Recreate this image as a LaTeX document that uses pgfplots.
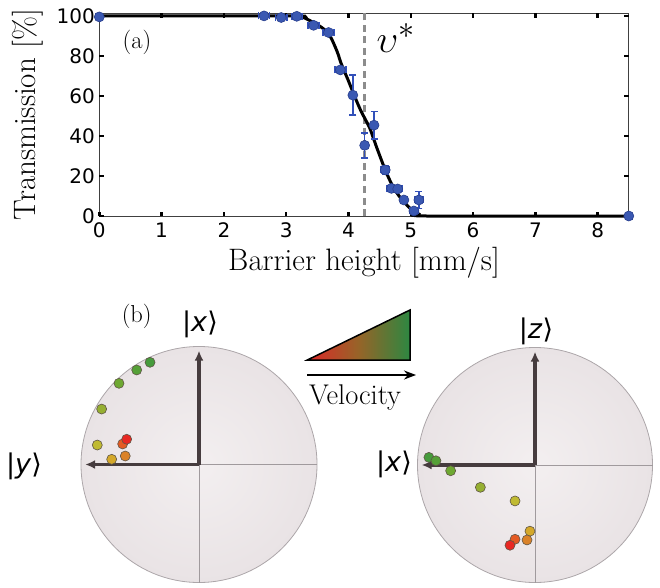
\documentclass[border=0pt]{standalone}
\usepackage{pgfplots}
\pgfplotsset{compat=1.18}
\usepackage{fontspec}
\usetikzlibrary{arrows.meta}
\newfontfamily\dejavu{DejaVu Sans}
\definecolor{ptblue}{RGB}{58,88,178}
\definecolor{ptedge}{RGB}{40,62,140}
\definecolor{ebblue}{RGB}{50,80,185}
\definecolor{dashgray}{RGB}{140,140,140}
\definecolor{sphin}{RGB}{243,239,240}
\definecolor{sphout}{RGB}{233,227,229}
\definecolor{sphrim}{RGB}{172,166,169}
\definecolor{thingray}{RGB}{160,154,157}
\definecolor{arr}{RGB}{70,60,62}
\definecolor{dotedge}{RGB}{95,85,70}
\definecolor{c1}{RGB}{70,155,60}
\definecolor{c2}{RGB}{85,160,55}
\definecolor{c3}{RGB}{110,168,50}
\definecolor{c4}{RGB}{150,175,50}
\definecolor{c5}{RGB}{192,186,50}
\definecolor{c6}{RGB}{212,168,42}
\definecolor{c7}{RGB}{218,130,40}
\definecolor{c8}{RGB}{228,90,35}
\definecolor{c9}{RGB}{232,40,35}
\definecolor{trired}{RGB}{222,40,40}
\definecolor{trimid}{RGB}{150,100,40}
\definecolor{trigreen}{RGB}{45,135,65}
\pgfplotstableread{
x y ex ey
0 99.5 0.05 0.6
2.645 100 0.09 0.6
2.92 99.2 0.09 0.8
3.17 99.8 0.08 0.8
3.44 95.3 0.09 1
3.68 91.7 0.09 1.2
3.87 73.0 0.09 1.5
4.07 60.4 0.05 10
4.26 35.3 0.05 6.3
4.41 45.4 0.05 6.9
4.59 23.0 0.07 2
4.69 13.8 0.07 1.5
4.79 13.5 0.07 1.5
4.89 8.0 0.05 1.5
5.05 2.5 0.07 1.5
5.13 8.0 0.07 4.2
8.5 0 0.05 0.5
}\transdata
\pgfplotstableread{
x y
0 100
3.1 100
3.26 99.4
3.45 96.5
3.6 93.5
3.72 89
3.82 82
3.885 76
4.0 67.5
4.096 60
4.2 52.5
4.34 44
4.45 34.5
4.59 23
4.7 15.5
4.8 10.5
4.87 7.8
5.0 3.5
5.13 1.0
5.25 0
8.5 0
}\fitdata
\begin{document}
\begin{tikzpicture}
\useasboundingbox (0,0) rectangle (660pt,587pt);
% ---------------- panel (a)
\begin{axis}[
  at={(99.3pt,371pt)}, anchor=south west,
  scale only axis, width=529.5pt, height=202.7pt,
  xmin=0, xmax=8.5, ymin=0, ymax=101.3,
  xtick={0,1,...,8}, ytick={0,20,...,100},
  major tick length=0pt,
  axis line style={line width=0.8pt, black!75},
  /pgf/number format/assume math mode=true,
  ticklabel style={font=\dejavu\fontsize{20}{20}\selectfont},
  xticklabel style={yshift=-3pt},
  yticklabel style={xshift=-1pt},
  xlabel={Barrier height [mm/s]},
  ylabel={Transmission [\%]},
  label style={font=\fontsize{31}{31}\selectfont, inner sep=0pt},
  xlabel style={at={(rel axis cs:0.5,0)}, anchor=center, yshift=-47pt},
  ylabel style={at={(rel axis cs:0,0.5)}, anchor=center, yshift=71.3pt},
  clip=false,
]
\pgfplotsinvokeforeach{0,1,...,8}{
  \draw[black, line width=2.4pt] (axis cs:#1,0) -- ++(0pt,4.5pt);
  \draw[black, line width=2.4pt] (axis cs:#1,101.3) -- ++(0pt,-4.5pt);
}
\pgfplotsinvokeforeach{0,20,...,100}{
  \draw[black, line width=2.4pt] (axis cs:0,#1) -- ++(4.5pt,0pt);
  \draw[black, line width=2.4pt] (axis cs:8.5,#1) -- ++(-4.5pt,0pt);
}
\addplot[dashgray, line width=3pt, dash pattern=on 7pt off 4.5pt] coordinates {(4.25,0) (4.25,101.3)};
\addplot[black, line width=3pt, smooth, tension=0.4] table[x=x,y=y] {\fitdata};
\addplot[only marks, mark=*, mark size=5pt, mark options={fill=ptblue, draw=ptedge, line width=0.6pt},
  error bars/.cd, x dir=both, x explicit, y dir=both, y explicit,
  error bar style={ebblue, line width=1.5pt},
  error mark options={ebblue, line width=1.5pt, mark size=3.5pt, rotate=90}]
  table[x=x, y=y, x error=ex, y error=ey] {\transdata};
\end{axis}
\node[font=\fontsize{24.5}{24.5}\selectfont] at (137pt,545pt) {(a)};
\node[font=\fontsize{24.88}{24.88}\selectfont, scale=1.55] at (396pt,549pt) {$\upsilon^{*}$};
% ---------------- panel (b)
\node[font=\fontsize{24.5}{24.5}\selectfont] at (136.7pt,271pt) {(b)};
\shade[left color=trired, right color=trigreen, middle color=trimid] (307.3pt,227pt) -- (410pt,277pt) -- (410pt,227pt) -- cycle;
\draw[black, line width=1.5pt, line join=miter] (307.3pt,227pt) -- (410pt,277pt) -- (410pt,227pt) -- cycle;
\draw[black, line width=1.6pt, -{Stealth[length=12pt, width=9pt]}] (307pt,212pt) -- (416pt,212pt);
\node[font=\fontsize{28.5}{28.5}\selectfont] at (355pt,189pt) {Velocity};
% left sphere
\begin{axis}[at={(199pt,122.5pt)}, anchor=center, scale only axis, width=236pt, height=236pt,
  xmin=-1, xmax=1, ymin=-1, ymax=1, hide axis, clip=false]
\shade[inner color=sphin, outer color=sphout] (axis cs:0,0) circle[radius=118pt];
\draw[sphrim, line width=0.8pt] (axis cs:0,0) circle[radius=118pt];
\draw[thingray, line width=0.6pt] (axis cs:0,0) -- (axis cs:1,0);
\draw[thingray, line width=0.6pt] (axis cs:0,0) -- (axis cs:0,-1);
\draw[arr, line width=3.4pt, -{Latex[length=10pt, width=9pt]}] (axis cs:0,0) -- (axis cs:0,0.965);
\draw[arr, line width=3.4pt, -{Latex[length=10pt, width=9pt]}] (axis cs:0,0) -- (axis cs:-0.965,0);
\pgfplotsset{every axis plot/.append style={only marks, mark=*, mark size=5pt}}
\addplot[mark options={fill=c1, draw=dotedge, line width=0.6pt}] coordinates {(-0.415,0.866)};
\addplot[mark options={fill=c2, draw=dotedge, line width=0.6pt}] coordinates {(-0.528,0.801)};
\addplot[mark options={fill=c3, draw=dotedge, line width=0.6pt}] coordinates {(-0.678,0.688)};
\addplot[mark options={fill=c4, draw=dotedge, line width=0.6pt}] coordinates {(-0.825,0.47)};
\addplot[mark options={fill=c5, draw=dotedge, line width=0.6pt}] coordinates {(-0.862,0.165)};
\addplot[mark options={fill=c6, draw=dotedge, line width=0.6pt}] coordinates {(-0.740,0.044)};
\addplot[mark options={fill=c7, draw=dotedge, line width=0.6pt}] coordinates {(-0.625,0.072)};
\addplot[mark options={fill=c8, draw=dotedge, line width=0.6pt}] coordinates {(-0.647,0.174)};
\addplot[mark options={fill=c9, draw=dotedge, line width=0.6pt}] coordinates {(-0.613,0.214)};
\end{axis}
% right sphere
\begin{axis}[at={(535pt,122pt)}, anchor=center, scale only axis, width=235pt, height=235pt,
  xmin=-1, xmax=1, ymin=-1, ymax=1, hide axis, clip=false]
\shade[inner color=sphin, outer color=sphout] (axis cs:0,0) circle[radius=117.5pt];
\draw[sphrim, line width=0.8pt] (axis cs:0,0) circle[radius=117.5pt];
\draw[thingray, line width=0.6pt] (axis cs:0,0) -- (axis cs:1,0);
\draw[thingray, line width=0.6pt] (axis cs:0,0) -- (axis cs:0,-1);
\draw[arr, line width=3.4pt, -{Latex[length=10pt, width=9pt]}] (axis cs:0,0) -- (axis cs:0,0.965);
\draw[arr, line width=3.4pt, -{Latex[length=10pt, width=9pt]}] (axis cs:0,0) -- (axis cs:-0.965,0);
\pgfplotsset{every axis plot/.append style={only marks, mark=*, mark size=5pt}}
\addplot[mark options={fill=c1, draw=dotedge, line width=0.6pt}] coordinates {(-0.903,0.065)};
\addplot[mark options={fill=c2, draw=dotedge, line width=0.6pt}] coordinates {(-0.843,0.036)};
\addplot[mark options={fill=c3, draw=dotedge, line width=0.6pt}] coordinates {(-0.718,-0.049)};
\addplot[mark options={fill=c4, draw=dotedge, line width=0.6pt}] coordinates {(-0.465,-0.190)};
\addplot[mark options={fill=c5, draw=dotedge, line width=0.6pt}] coordinates {(-0.170,-0.306)};
\addplot[mark options={fill=c6, draw=dotedge, line width=0.6pt}] coordinates {(-0.043,-0.563)};
\addplot[mark options={fill=c7, draw=dotedge, line width=0.6pt}] coordinates {(-0.068,-0.638)};
\addplot[mark options={fill=c8, draw=dotedge, line width=0.6pt}] coordinates {(-0.170,-0.632)};
\addplot[mark options={fill=c9, draw=dotedge, line width=0.6pt}] coordinates {(-0.213,-0.683)};
\end{axis}
% ket labels
\node[font=\dejavu\fontsize{27}{27}\selectfont] at (200pt,263pt) {|\textit{x}⟩};
\node[font=\dejavu\fontsize{27}{27}\selectfont] at (24pt,121pt) {|\textit{y}⟩};
\node[font=\dejavu\fontsize{27}{27}\selectfont] at (536pt,256pt) {|\textit{z}⟩};
\node[font=\dejavu\fontsize{27}{27}\selectfont] at (394pt,123pt) {|\textit{x}⟩};
\end{tikzpicture}
\end{document}
